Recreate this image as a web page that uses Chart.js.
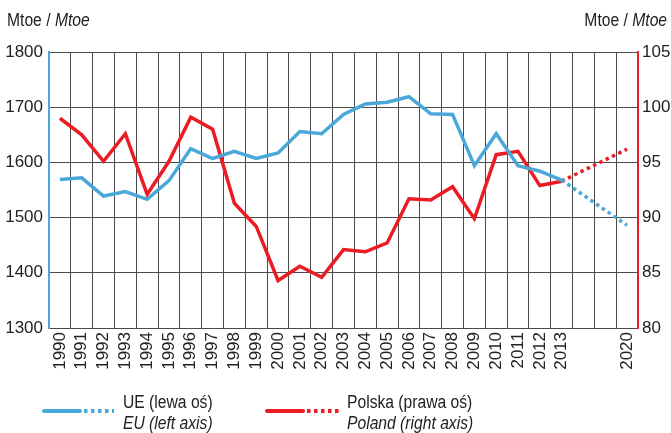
<!DOCTYPE html>
<html>
<head>
<meta charset="utf-8">
<script src="https://cdn.jsdelivr.net/npm/chart.js@4"></script>
<style>
  html, body { margin: 0; padding: 0; background: #fff; }
  #wrap { position: relative; width: 671px; height: 433px; font-family: "Liberation Sans", Arial, sans-serif; color: #222; }
  .lbl { position: absolute; font-size: 18px; line-height: 20px; white-space: nowrap; transform: scaleX(0.87); transform-origin: left center; }
  .lbl.r { transform-origin: right center; }
  .sample { position: absolute; }
</style>
</head>
<body>
<div id="wrap">
  <canvas id="energyChart"></canvas>
  <div class="lbl" style="left:7px; top:10px;">Mtoe / <i>Mtoe</i></div>
  <div class="lbl r" style="right:4px; top:10px;">Mtoe / <i>Mtoe</i></div>

  <svg class="sample" style="left:40px; top:404px;" width="80" height="14">
    <line x1="4" y1="7" x2="40" y2="7" stroke="#4aa8d8" stroke-width="4" stroke-linecap="round"/>
    <line x1="44" y1="7" x2="74" y2="7" stroke="#4aa8d8" stroke-width="4" stroke-dasharray="3.5 3.5"/>
  </svg>
  <div class="lbl" style="left:123px; top:392px;">UE (lewa oś)</div>
  <div class="lbl" style="left:123px; top:413px;"><i>EU (left axis)</i></div>

  <svg class="sample" style="left:263px; top:404px;" width="80" height="14">
    <line x1="4" y1="7" x2="40" y2="7" stroke="#ec1c24" stroke-width="4" stroke-linecap="round"/>
    <line x1="44" y1="7" x2="76" y2="7" stroke="#ec1c24" stroke-width="4" stroke-dasharray="3.5 3.5"/>
  </svg>
  <div class="lbl" style="left:347px; top:392px;">Polska (prawa oś)</div>
  <div class="lbl" style="left:347px; top:413px;"><i>Poland (right axis)</i></div>
</div>
<script>
// categories (two empty slots between 2013 and 2020)
const years = ['1990', '1991', '1992', '1993', '1994', '1995', '1996', '1997', '1998', '1999',
  '2000', '2001', '2002', '2003', '2004', '2005', '2006', '2007', '2008', '2009',
  '2010', '2011', '2012', '2013', '', '', '2020'];

// EU, Mtoe (left axis)
const euValues = [1569, 1572, 1539, 1547, 1533, 1567, 1625, 1607, 1620, 1607,
  1617, 1656, 1652, 1687, 1706, 1709, 1719, 1688, 1687, 1594,
  1652, 1594, 1584, 1568];
const euForecast = 1486;

// Poland, Mtoe (right axis)
const plValues = [99.0, 97.5, 95.1, 97.6, 92.1, 95.1, 99.1, 98.0, 91.3, 89.2,
  84.3, 85.6, 84.6, 87.1, 86.9, 87.7, 91.7, 91.6, 92.8, 89.9,
  95.7, 96.0, 92.9, 93.3];
const plForecast = 96.2;

const leftTicks = [1300, 1400, 1500, 1600, 1700, 1800];
const rightTicks = [80, 85, 90, 95, 100, 105];

const blue = '#4aa8d8';
const red = '#ec1c24';
const gridColor = '#4a4a4a';
const fontFamily = '"Liberation Sans", Arial, sans-serif';

function padded(values) {
  return years.map((y, i) => i < values.length ? values[i] : null);
}
function forecast(values, last) {
  return years.map((y, i) => {
    if (i === values.length - 1) return values[i];
    if (i === years.length - 1) return last;
    return null;
  });
}

let ctx = document.getElementById('energyChart').getContext('2d');

let energyChart = new Chart(ctx, {
  type: 'line',
  data: {
    labels: years,
    datasets: [{
      data: padded(plValues),
      yAxisID: 'y1',
      borderColor: red,
      borderWidth: 3.5,
      pointRadius: 0,
      tension: 0,
      order: 2
    },
    {
      data: forecast(plValues, plForecast),
      yAxisID: 'y1',
      borderColor: red,
      borderWidth: 3.5,
      borderDash: [3.5, 3.5],
      pointRadius: 0,
      spanGaps: true,
      order: 2
    },
    {
      data: padded(euValues),
      yAxisID: 'y',
      borderColor: blue,
      borderWidth: 3.5,
      pointRadius: 0,
      tension: 0,
      order: 1
    },
    {
      data: forecast(euValues, euForecast),
      yAxisID: 'y',
      borderColor: blue,
      borderWidth: 3.5,
      borderDash: [3.5, 3.5],
      pointRadius: 0,
      spanGaps: true,
      order: 1
    }]
  },
  options: {
    responsive: true,
    maintainAspectRatio: false,
    animation: false,
    layout: {
      padding: { top: 52, bottom: 60, left: 0, right: 0 }
    },
    plugins: {
      legend: { display: false },
      tooltip: { enabled: false }
    },
    scales: {
      x: {
        offset: true,
        grid: {
          offset: true,
          color: gridColor,
          lineWidth: 1,
          drawTicks: false
        },
        border: { color: gridColor, width: 1 },
        ticks: {
          autoSkip: false,
          maxRotation: 90,
          minRotation: 90,
          padding: 4,
          color: '#222',
          font: { family: fontFamily, size: 17 }
        },
        afterFit: (scale) => { scale.height = 45; }
      },
      y: {
        position: 'left',
        min: 1300,
        max: 1800,
        afterBuildTicks: (scale) => { scale.ticks = leftTicks.map(v => ({ value: v })); },
        grid: {
          color: gridColor,
          lineWidth: 1,
          drawTicks: false
        },
        border: { color: blue, width: 2 },
        ticks: {
          padding: 6,
          color: '#222',
          font: { family: fontFamily, size: 17 },
          callback: (v) => String(v)
        },
        afterFit: (scale) => { scale.width = 49; }
      },
      y1: {
        position: 'right',
        min: 80,
        max: 105,
        afterBuildTicks: (scale) => { scale.ticks = rightTicks.map(v => ({ value: v })); },
        grid: {
          drawOnChartArea: false,
          drawTicks: false
        },
        border: { color: red, width: 2 },
        ticks: {
          padding: 4,
          color: '#222',
          font: { family: fontFamily, size: 17 },
          callback: (v) => String(v)
        },
        afterFit: (scale) => { scale.width = 33; }
      }
    }
  }
});
</script>
</body>
</html>
